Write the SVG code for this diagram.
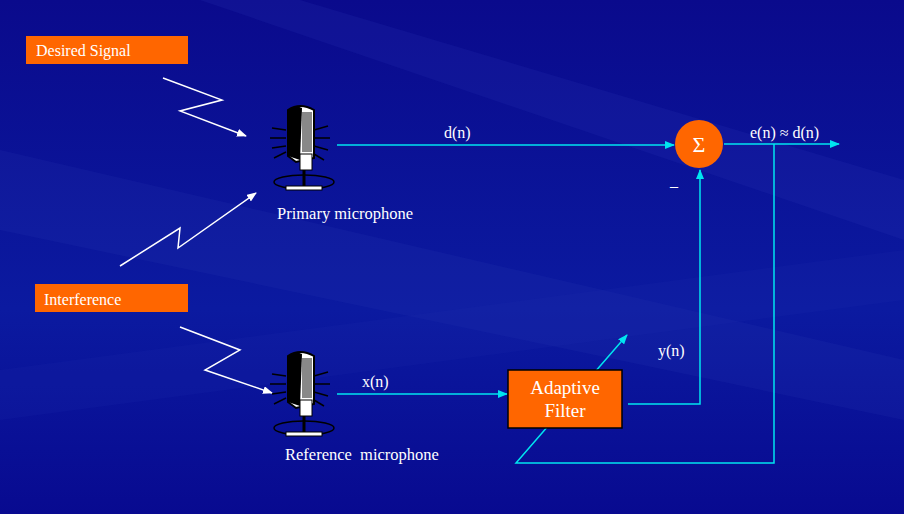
<svg xmlns="http://www.w3.org/2000/svg" width="904" height="514" viewBox="0 0 904 514">
<defs>
<linearGradient id="bg" x1="0" y1="0" x2="0" y2="1"><stop offset="0" stop-color="#0a0a8c"/><stop offset="0.6" stop-color="#0b1aa0"/><stop offset="1" stop-color="#080a90"/></linearGradient>
<marker id="ac" markerWidth="10" markerHeight="8" refX="9" refY="4" orient="auto" markerUnits="userSpaceOnUse"><path d="M0,0 L10,4 L0,8 Z" fill="#00e5f0"/></marker>
<marker id="aw" markerWidth="10" markerHeight="8" refX="9" refY="4" orient="auto" markerUnits="userSpaceOnUse"><path d="M0,0 L10,4 L0,8 Z" fill="#fff"/></marker>
<g id="mic">
<g stroke="#000" stroke-width="1.5"><line x1="-28" y1="-20" x2="-14" y2="-18"/><line x1="-30" y1="-10" x2="-14" y2="-10"/><line x1="-28" y1="0" x2="-14" y2="-2"/><line x1="-26" y1="10" x2="-14" y2="4"/><line x1="14" y1="-18" x2="28" y2="-22"/><line x1="14" y1="-10" x2="30" y2="-10"/><line x1="14" y1="-2" x2="28" y2="2"/><line x1="14" y1="6" x2="24" y2="12"/></g>
<path d="M-12,-38 Q0,-46 14,-38 L14,10 L-4,14 L-12,8 Z" fill="#fff" stroke="#000" stroke-width="2"/>
<path d="M-12,-38 Q-4,-44 2,-40 L0,12 L-12,8 Z" fill="#000"/>
<rect x="2" y="-36" width="10" height="40" fill="#888"/>
<rect x="0" y="6" width="12" height="16" fill="#fff" stroke="#000"/>
<line x1="4" y1="22" x2="4" y2="38" stroke="#000" stroke-width="3"/>
<ellipse cx="4" cy="34" rx="30" ry="7" fill="none" stroke="#000" stroke-width="1.5"/>
<rect x="-14" y="38" width="36" height="4" fill="#fff" stroke="#000"/>
</g>
</defs>
<style>
.t{font-family:"Liberation Serif",serif;fill:#fff}
.c{stroke:#00e5f0;stroke-width:1.5;fill:none}
.w{stroke:#fff;stroke-width:1.5;fill:none}
</style>
<rect width="904" height="514" fill="url(#bg)"/>
<path d="M300,0 L904,180 L904,240 L200,0 Z" fill="#2a3ab8" opacity="0.18"/>
<path d="M0,150 L904,360 L904,420 L0,230 Z" fill="#3a4ac0" opacity="0.12"/>
<path d="M0,370 L904,250 L904,300 L0,420 Z" fill="#2030b0" opacity="0.15"/>

<g id="connectors">
<polyline class="w" points="163,78 222,100 180,111 246,136" marker-end="url(#aw)"/>
<polyline class="w" points="120,266 180,228 178,248 256,193" marker-end="url(#aw)"/>
<polyline class="w" points="180,327 240,350 205,370 272,393" marker-end="url(#aw)"/>
<line class="c" x1="337" y1="145" x2="674" y2="145" marker-end="url(#ac)"/>
<line class="c" x1="724" y1="144" x2="839" y2="144" marker-end="url(#ac)"/>
<line class="c" x1="337" y1="394" x2="507" y2="394" marker-end="url(#ac)"/>
<polyline class="c" points="628,404 700,404 700,170" marker-end="url(#ac)"/>
<polyline class="c" points="774,144 774,463 516,463 627,335" marker-end="url(#ac)"/>
<text class="t" x="444" y="138" font-size="16">d(n)</text>
<text class="t" x="750" y="138" font-size="16">e(n) ≈ d(n)</text>
<text class="t" x="362" y="387" font-size="16">x(n)</text>
<text class="t" x="658" y="356" font-size="16">y(n)</text>
</g>

<g id="desired"><rect x="26" y="36" width="162" height="28" fill="#ff6600"/><text class="t" x="36" y="56" font-size="16">Desired Signal</text></g>
<g id="interference"><rect x="35" y="284" width="153" height="28" fill="#ff6600"/><text class="t" x="44" y="305" font-size="16">Interference</text></g>
<g id="primary"><use href="#mic" x="300" y="148"/><text class="t" x="277" y="219" font-size="16.5">Primary microphone</text></g>
<g id="reference"><use href="#mic" x="300" y="394"/><text class="t" x="285" y="460" font-size="16.5">Reference&#160; microphone</text></g>
<g id="sum"><circle cx="699" cy="144" r="24" fill="#ff6600"/><text class="t" x="699" y="152" font-size="22" text-anchor="middle">Σ</text><text class="t" x="670" y="186" font-size="16">_</text></g>
<g id="filter"><rect x="508" y="370" width="114" height="58" fill="#ff6600" stroke="#000" stroke-width="1.5"/><text class="t" x="565" y="394" font-size="19" text-anchor="middle">Adaptive</text><text class="t" x="565" y="417" font-size="19" text-anchor="middle">Filter</text></g>
</svg>
